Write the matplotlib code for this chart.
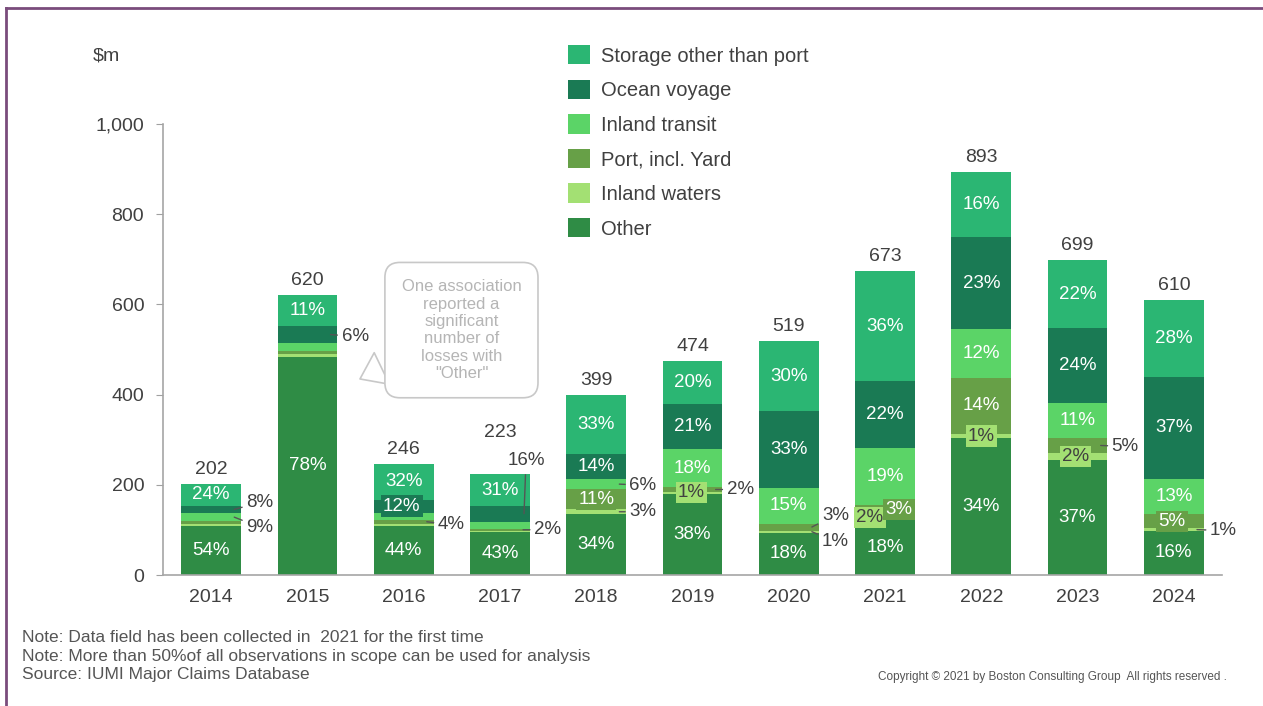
import matplotlib
matplotlib.use("Agg")
import numpy as np
import matplotlib.pyplot as plt
from matplotlib.lines import Line2D
from matplotlib.patches import Patch

plt.rcParams['font.family'] = ['Liberation Sans', 'DejaVu Sans']

# data: share of each loss location in %, bottom to top of the stack
years = ['2014', '2015', '2016', '2017', '2018', '2019', '2020', '2021', '2022', '2023', '2024']
totals = [202, 620, 246, 223, 399, 474, 519, 673, 893, 699, 610]
other = [54, 78, 44, 43, 34, 38, 18, 18, 34, 37, 16]
inland_waters = [2, 1, 2, 1, 3, 1, 1, 2, 1, 2, 1]
port_yard = [3, 1, 4, 2, 11, 2, 3, 3, 14, 5, 5]
inland_transit = [9, 3, 6, 7, 6, 18, 15, 19, 12, 11, 13]
ocean_voyage = [8, 6, 12, 16, 14, 21, 33, 22, 23, 24, 37]
storage = [24, 11, 32, 31, 33, 20, 30, 36, 16, 22, 28]
series_names = ['Other', 'Inland waters', 'Port, incl. Yard', 'Inland transit',
                'Ocean voyage', 'Storage other than port']
yticks = [0, 200, 400, 600, 800, 1000]

colors = ['#2F8C45', '#A3E073', '#67A047', '#5BD467', '#1A7A54', '#2BB673']
dark = '#404040'

# label layout: which small segments get an outside label, a boxed label, or none
outside = {(0, 3): (12, -10), (0, 4): (12, 7), (1, 4): (11, -2), (2, 2): (11, -3),
           (3, 2): (11, 0), (4, 3): (10, -1), (4, 1): (10, 0), (5, 2): (11, 0),
           (6, 2): (10, 12), (6, 1): (10, -10), (9, 2): (11, -1), (10, 1): (13, -1)}
boxed = {(2, 4): (-2, 'white'), (4, 2): (0, 'white'), (5, 1): (-1, dark),
         (7, 1): (-15, dark), (7, 2): (14, 'white'), (8, 1): (0, dark),
         (9, 1): (-2, dark), (10, 2): (-2, 'white')}
hidden = {(0, 1), (0, 2), (1, 1), (1, 2), (1, 3), (2, 1), (2, 3), (3, 1), (3, 3)}
total_lift = {3: 27}

shares = np.array([other, inland_waters, port_yard, inland_transit, ocean_voyage, storage], dtype=float)
tot = np.array(totals, dtype=float)
heights = shares / shares.sum(axis=0) * tot
bottoms = np.vstack([np.zeros(len(years)), np.cumsum(heights, axis=0)[:-1]])

fig = plt.figure(figsize=(12.63, 7.06), dpi=100)
ax = fig.add_axes([163 / 1263, 131 / 706, 1059 / 1263, 451 / 706])
x = np.arange(len(years))
bar_w = 0.62

for s in range(6):
    ax.bar(x, heights[s], bar_w, bottom=bottoms[s], color=colors[s], linewidth=0)

for i in range(len(years)):
    ax.annotate(str(totals[i]), xy=(x[i], tot[i]), xytext=(0, 6 + total_lift.get(i, 0)),
                textcoords='offset pixels', ha='center', va='bottom', fontsize=14, color=dark)
    right = x[i] + bar_w / 2 - 0.07
    for s in range(6):
        key = (i, s)
        if key in hidden:
            continue
        mid = bottoms[s][i] + heights[s][i] / 2
        txt = "{}%".format(int(shares[s][i]))
        if key == (3, 4):
            ax.annotate(txt, xy=(x[i] + 0.25, mid), xytext=(2, 53), textcoords='offset pixels',
                        ha='center', va='center', fontsize=13.5, color=dark,
                        arrowprops=dict(arrowstyle='-', color='#555555', lw=1, shrinkA=2, shrinkB=0))
        elif key in outside:
            dx, dy = outside[key]
            ax.annotate(txt, xy=(right, mid), xytext=(dx, dy), textcoords='offset pixels',
                        ha='left', va='center', fontsize=13.5, color=dark,
                        arrowprops=dict(arrowstyle='-', color='#555555', lw=1, shrinkA=1, shrinkB=0))
        elif key in boxed:
            dx, tc = boxed[key]
            ax.annotate(txt, xy=(x[i], mid), xytext=(dx, 0), textcoords='offset pixels',
                        ha='center', va='center', fontsize=13.5, color=tc,
                        bbox=dict(boxstyle='square,pad=0.12', fc=colors[s], ec='none'))
        else:
            ax.text(x[i], mid, txt, ha='center', va='center', fontsize=13.5, color='white')

# callout bubble
ax.annotate('One association\nreported a\nsignificant\nnumber of\nlosses with\n"Other"',
            xy=(1.52, 432), xytext=(2.6, 543), textcoords='data',
            ha='center', va='center', fontsize=12, color='#B5B5B5', linespacing=1.2,
            bbox=dict(boxstyle='round,pad=1.0,rounding_size=0.9', fc='white', ec='#C8C8C8', lw=1.2),
            arrowprops=dict(arrowstyle='wedge,tail_width=2.1', fc='white', ec='#C8C8C8', lw=1.2))

ax.set_xlim(-0.5, len(years) - 0.5)
ax.set_ylim(0, 1000)
ax.set_xticks(x)
ax.set_xticklabels(years, fontsize=14, color=dark)
ax.set_yticks(yticks)
ax.set_yticklabels(["{:,}".format(v) for v in yticks], fontsize=14, color=dark)
ax.tick_params(axis='x', length=0, pad=10)
ax.tick_params(axis='y', direction='out', length=5, color='#A0A0A0', pad=8.5)
for side in ['top', 'right']:
    ax.spines[side].set_visible(False)
for side in ['left', 'bottom']:
    ax.spines[side].set_color('#A6A6A6')
    ax.spines[side].set_linewidth(1.2)

handles = [Patch(facecolor=colors[s], edgecolor='none', label=series_names[s]) for s in range(5, -1, -1)]
fig.legend(handles=handles, loc='upper left', bbox_to_anchor=(568 / 1263, 1 - 45 / 706),
           frameon=False, fontsize=14.5, handlelength=1.1, handleheight=1.1,
           handletextpad=0.55, labelspacing=0.7, borderpad=0, borderaxespad=0,
           labelcolor=dark)

fig.text(106 / 1263, 1 - 56 / 706, '$m', fontsize=14, color=dark, ha='center', va='center')

notes = ['Note: Data field has been collected in  2021 for the first time',
         'Note: More than 50%of all observations in scope can be used for analysis',
         'Source: IUMI Major Claims Database']
for k, line in enumerate(notes):
    fig.text(22 / 1263, 1 - (637 + 19 * k) / 706, line, fontsize=12.5, color='#555555',
             ha='left', va='center')
fig.text(1227 / 1263, 1 - 677 / 706, 'Copyright \u00a9 2021 by Boston Consulting Group  All rights reserved .',
         fontsize=8.5, color='#555555', ha='right', va='center')

# purple page frame
purple = '#7A4C7C'
fig.add_artist(Line2D([6 / 1263, 1], [1 - 8 / 706, 1 - 8 / 706], color=purple, lw=2))
fig.add_artist(Line2D([6 / 1263, 6 / 1263], [0, 1 - 8 / 706], color=purple, lw=2))

fig.savefig('out.png', dpi=100)
